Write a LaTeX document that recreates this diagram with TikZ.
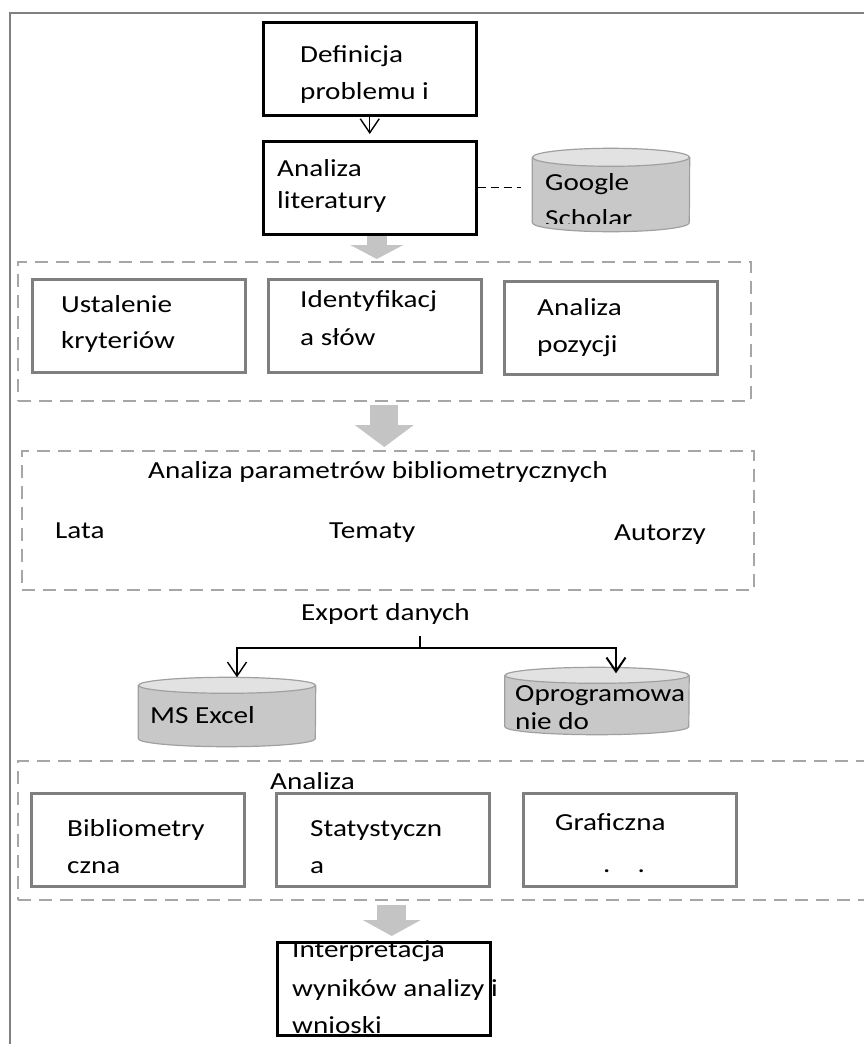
\documentclass[tikz,border=0pt]{standalone}
\usepackage{fontspec}
\setmainfont{Carlito}[FakeStretch=1.19]
\usetikzlibrary{arrows.meta,calc}

\definecolor{framegray}{RGB}{128,128,128}
\definecolor{dashgray}{RGB}{166,166,166}
\definecolor{boxgray}{RGB}{127,127,127}
\definecolor{dbbody}{RGB}{200,200,200}
\definecolor{dbtop}{RGB}{226,226,226}
\definecolor{dbline}{RGB}{160,160,160}
\definecolor{fatgray}{RGB}{196,196,196}

\tikzset{
  every node/.style={font=\fontsize{24.5}{30}\selectfont, inner sep=0pt},
  txt/.style={anchor=base west},
  stepbox/.style={draw, line width=2.5pt, anchor=north west, minimum width=\bw, minimum height=\bh},
  grpbox/.style={draw=dashgray, line width=1.6pt, dash pattern=on 13pt off 8pt, anchor=north west},
  thinarrow/.style={line width=1.4pt, -{Straight Barb[length=14pt,width=19pt]}},
  fatarrow/.style n args={3}{draw=fatgray, line width=#1, -{Triangle[width=#2,length=#3,line width=0pt]}}
}

\begin{document}
\begin{tikzpicture}[x=1pt,y=-1pt]
\def\bw{213pt}
\def\bh{93pt}
% database drum: node name, x radius, y radius of the ends
\def\database#1#2#3{%
  \filldraw[fill=dbbody, draw=dbline, line width=1.2pt] ($(#1.north west)+(0,#3)$) -- ($(#1.south west)+(0,-#3)$)
    arc[start angle=180, end angle=360, x radius=#2pt, y radius=#3pt] -- ($(#1.north east)+(0,#3)$);
  \filldraw[fill=dbtop, draw=dbline, line width=1.2pt] ($(#1.north)+(0,#3)$) ellipse[x radius=#2pt, y radius=#3pt];
}
\useasboundingbox (0,0) rectangle (864,1044);

% frame
\draw[framegray, line width=2pt] (10,1044) -- (10,13) -- (864,13);

% problem and literature
\node[stepbox] (def) at (262,21) {};
\node[txt] (def1) at (300,62) {Definicja};
\node[txt] (def2) at (300,99) {problemu i};

\node[stepbox] (lit) at (262,140) {};
\node[txt] (lit1) at (277,176) {Analiza};
\node[txt] (lit2) at (277,208) {literatury};

\node[minimum width=157pt, minimum height=83pt] (gs) at (611,190) {};
\database{gs}{78.5}{9}
\begin{scope}
\clip (530,145) rectangle (695,223);
\node[txt] (gs1) at (545,190) {Google};
\node[txt] (gs2) at (545,226) {Scholar};
\end{scope}

\draw[thinarrow, shorten >=6pt] (def) -- (lit);
\draw[line width=1.3pt, dash pattern=on 8pt off 5pt, shorten >=11pt] (lit.east) -- (lit.east -| gs.west);

% selection of items
\node[grpbox, minimum width=733pt, minimum height=139pt] (grp1) at (17,261) {};
\node[stepbox, draw=boxgray] (krit) at (31,278) {};
\node[stepbox, draw=boxgray] (slow) at (267,278) {};
\node[stepbox, draw=boxgray] (poz) at (503,280) {};
\node[txt] (krit1) at (61,312) {Ustalenie};
\node[txt] (krit2) at (61,348) {kryteriów};
\node[txt] (slow1) at (300,307) {Identyfikacj};
\node[txt] (slow2) at (300,345) {a słów};
\node[txt] (poz1) at (537,315) {Analiza};
\node[txt] (poz2) at (537,352) {pozycji};

\draw[fatarrow={20pt}{53pt}{14pt}, shorten >=2pt] ([xshift=7pt]lit.south) -- ([xshift=7pt]lit.south |- grp1.north);

% bibliometric parameters
\node[grpbox, minimum width=732pt, minimum height=139pt] (grp2) at (21,450) {};
\node[txt] (par) at (148,478) {Analiza parametrów bibliometrycznych};
\node[txt] (lata) at (55,538) {Lata};
\node[txt] (tem) at (329,538) {Tematy};
\node[txt] (aut) at (614,540) {Autorzy};

\draw[fatarrow={28pt}{59pt}{22pt}, shorten <=3pt, shorten >=3pt] (grp1.south) -- (grp1.south |- grp2.north);

% export
\node[txt] (exp) at (301,620) {Export danych};
\coordinate (tick) at (420,636);
\coordinate (split) at (420,648);

\node[minimum width=177pt, minimum height=69pt] (excel) at (227,712) {};
\database{excel}{88.5}{8}
\node[txt] (excel1) at (150,723) {MS Excel};
\node[minimum width=184pt, minimum height=67pt] (opr) at (597,701) {};
\database{opr}{92}{8}
\node[txt] (opr1) at (515,701) {Oprogramowa};
\node[txt] (opr2) at (515,729) {nie do};

\draw[line width=1.4pt] (tick) -- (split);
\draw[thinarrow] (split) -| ($(excel.north)+(10,0)$);
\draw[thinarrow, line width=2pt] (split) -| ($(opr.north)+(19,6)$);

% analysis
\node[grpbox, minimum width=860pt, minimum height=139pt] (grp3) at (17,760) {};
\node[stepbox, draw=boxgray] (bib) at (30,792) {};
\node[stepbox, draw=boxgray] (stat) at (275,792) {};
\node[stepbox, draw=boxgray] (graf) at (522,792) {};
\node[txt] (ana) at (270,789) {Analiza};
\node[txt] (bib1) at (67,836) {Bibliometry};
\node[txt] (bib2) at (67,873) {czna};
\node[txt] (stat1) at (310,836) {Statystyczn};
\node[txt] (stat2) at (310,873) {a};
\node[txt] (graf1) at (555,830) {Graficzna};
\node[txt] (graf2) at (603,872) {.\hspace{27pt}.};

% interpretation
\node[stepbox] (wyn) at (276,941) {};
\node[txt] (wyn1) at (292,957) {Interpretacja};
\node[txt] (wyn2) at (292,996) {wyników analizy i};
\node[txt] (wyn3) at (292,1033) {wnioski};

\draw[fatarrow={29pt}{58pt}{16pt}, shorten <=4pt, shorten >=5pt] ([xshift=8pt]wyn.north |- grp3.south) -- ([xshift=8pt]wyn.north);

\end{tikzpicture}
\end{document}
